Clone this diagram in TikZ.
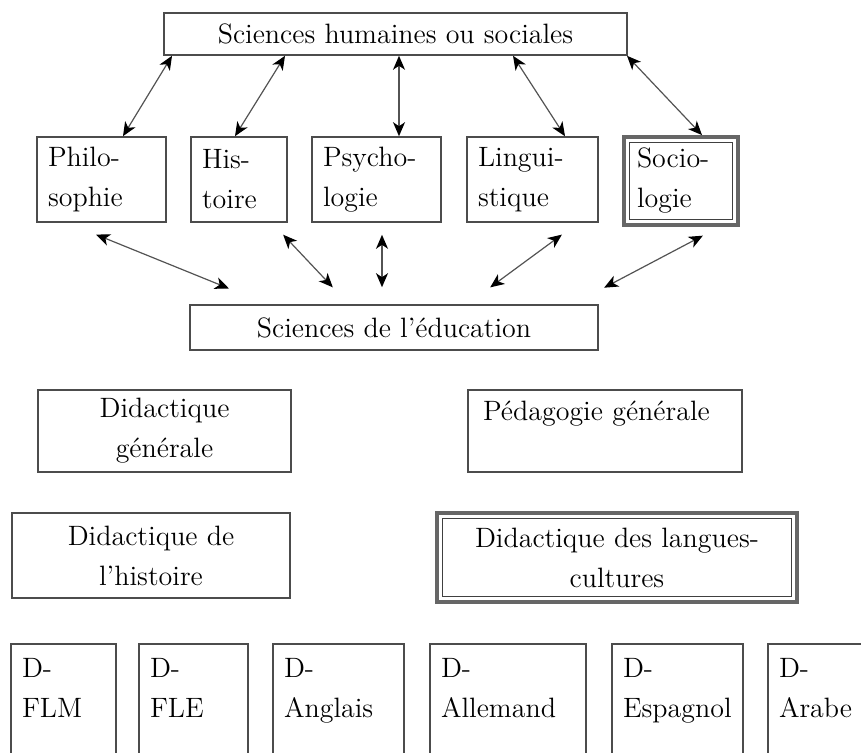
\documentclass[tikz,border=0pt]{standalone}
\usepackage{fontspec}
\usetikzlibrary{arrows.meta}

\begin{document}
\begin{tikzpicture}[
  x=0.5pt, y=-0.5pt,
  box/.style={draw=black!70, line width=0.8pt, inner sep=0pt, align=center,
              font=\fontsize{14}{20}\selectfont},
  lbox/.style={box, inner xsep=5.5pt, align=left, text width=#1},
  dbox/.style={draw=gray!80!black, line width=1.9pt, path picture={
      \draw[black!75, line width=0.6pt]
        ([shift={(2.8pt,-2.8pt)}]path picture bounding box.north west) rectangle
        ([shift={(-2.8pt,2.8pt)}]path picture bounding box.south east);}},
  arrow/.style={{Stealth[length=7pt,width=6pt,inset=2pt,black]}-{Stealth[length=7pt,width=6pt,inset=2pt,black]},
                gray!65!black, line width=0.6pt}
]
\useasboundingbox (0,0) rectangle (861,753);
\clip (0,0) rectangle (861,753);

% --- Top: human and social sciences ---
\node[box, minimum width=231.5pt, minimum height=21pt] (shs) at (395.5,34) {Sciences humaines ou sociales};

\node[lbox=53.5pt, minimum height=42.5pt] (philo) at (101.5,179.5) {Philo-\\sophie};
\node[lbox=37pt, minimum height=42.5pt] (hist) at (239,179.5) {His-\\toire};
\node[lbox=53.5pt, minimum height=42.5pt] (psy) at (376.5,179.5) {Psycho-\\logie};
\node[lbox=54.5pt, minimum height=42.5pt] (ling) at (532.5,179.5) {Lingui-\\stique};
\node[lbox=44pt, dbox, inner xsep=6.5pt, minimum height=44pt] (socio) at (681,181) {Socio-\\logie};

% --- Middle: education sciences ---
\node[box, minimum width=204pt, minimum height=22.5pt] (sced) at (394,327.5) {Sciences de l'éducation};

\node[box, minimum width=126.5pt, minimum height=41pt] (didg) at (164.5,431) {Didactique\\générale};
\node[lbox=122pt, inner xsep=7.5pt, minimum height=41pt] (pedg) at (605,431) {Pédagogie générale\\ \mbox{}};

\node[box, minimum width=139pt, minimum height=42.5pt] (dhist) at (151,555.5) {Didactique de\\l'histoire};
\node[box, dbox, minimum width=180pt, minimum height=44.5pt] (dlc) at (617,557.5) {Didactique des langues-\\cultures};

% --- Bottom: one didactics per language ---
\foreach \nm/\cx/\w/\lang in {dflm/63.5/41.5pt/FLM, dfle/193.5/43.5pt/FLE, dang/338.5/54.5pt/Anglais,
                              dall/508/67pt/Allemand, desp/677.5/54.5pt/Espagnol, dara/824/45pt/Arabe} {
  \node[lbox=\w, minimum height=64pt] (\nm) at (\cx,708) {D-\\\lang\\ \mbox{}};
}

% Arrows
\draw[arrow] (shs.south -| 172,0) -- (philo.north -| 123,0);
\draw[arrow] (shs.south -| 285,0) -- (hist.north -| 235,0);
\draw[arrow] (shs.south -| 399,0) -- (psy.north -| 399,0);
\draw[arrow] (shs.south -| 513,0) -- (ling.north -| 565,0);
\draw[arrow] (shs.south -| 627,0) -- (socio.north -| 702,0);

\draw[arrow, shorten <=15.7pt, shorten >=20.9pt] (philo.south -| 67,0) -- (sced.north -| 267.7,0);
\draw[arrow, shorten <=8.2pt, shorten >=11.6pt] (hist.south -| 271.9,0) -- (sced.north -| 348.7,0);
\draw[arrow, shorten <=6pt, shorten >=8.5pt] (psy.south -| 382,0) -- (sced.north -| 382,0);
\draw[arrow, shorten <=10pt, shorten >=14.2pt] (ling.south -| 578,0) -- (sced.north -| 467.3,0);
\draw[arrow, shorten <=9.4pt, shorten >=17.7pt] (socio.south -| 719.5,0) -- (sced.north -| 572.8,0);

\end{tikzpicture}
\end{document}
